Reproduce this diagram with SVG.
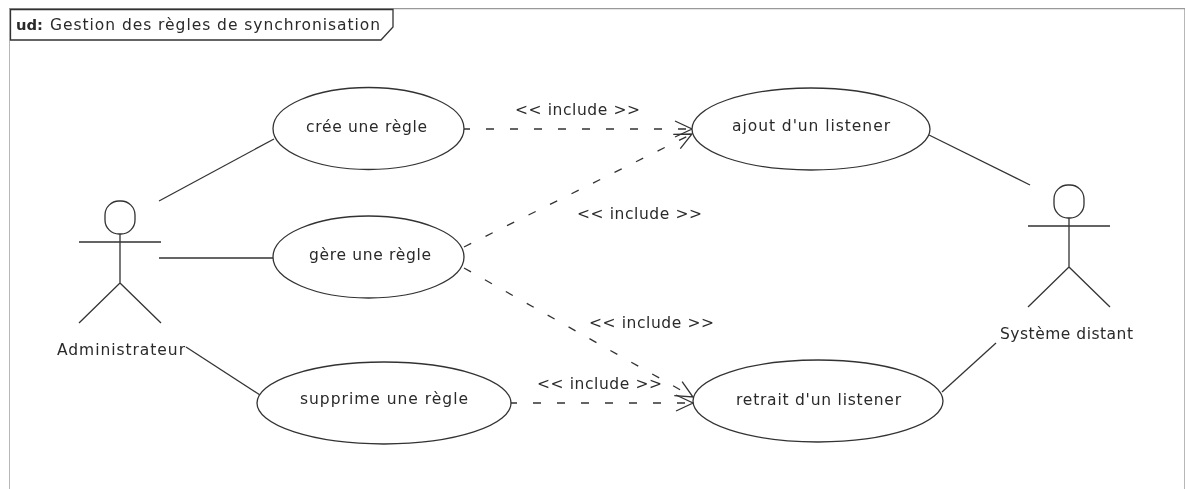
<svg xmlns="http://www.w3.org/2000/svg" width="1186" height="489" viewBox="0 0 1186 489">
<style>
text{font-family:"DejaVu Sans",sans-serif;font-size:15.500px;fill:#2a2a2a}
.s{fill:none;stroke:#333;stroke-width:1.300}
.u{fill:#fff;stroke:#333;stroke-width:1.300}
.d{fill:none;stroke:#333;stroke-width:1.300;stroke-dasharray:8 16}
.f{fill:none;stroke:#999;stroke-width:1.400}
</style>
<defs>
<filter id="soft" x="0" y="0" width="100%" height="100%"><feGaussianBlur stdDeviation="0.350"/></filter>
<marker id="open" markerUnits="userSpaceOnUse" markerWidth="24" markerHeight="24" refX="21" refY="12" orient="auto">
<path d="M4 4L21 12L4 20" fill="none" stroke="#333" stroke-width="1.300"/>
</marker>
</defs>
<rect width="1186" height="489" fill="#fff"/>
<g filter="url(#soft)">
<g id="frame">
<path class="f" d="M9 489V8.500H1185V489"/>
<path d="M10.500 9.500H393V27L381 40H10.500Z" fill="#fff" stroke="#333" stroke-width="1.300"/>
<text x="16" y="30" font-weight="bold" textLength="27" lengthAdjust="spacingAndGlyphs" style="font-size:14.500px">ud:</text>
<text x="50" y="30" textLength="330">Gestion des règles de synchronisation</text>
</g>
<g id="connectors">
<path class="s" d="M159 201L274 139"/>
<path class="s" d="M159 258H273"/>
<path class="s" d="M186 347L260 395"/>
<path class="s" d="M929 135L1030 185"/>
<path class="s" d="M942 392L996 343"/>
<path class="d" d="M462 129H692" marker-end="url(#open)"/>
<path class="d" d="M464 247L692 134" marker-end="url(#open)"/>
<path class="d" d="M464 268L693 397" marker-end="url(#open)"/>
<path class="d" d="M509 403H693" marker-end="url(#open)"/>
<text x="515" y="115" textLength="125">&lt;&lt; include &gt;&gt;</text>
<text x="577" y="219" textLength="125">&lt;&lt; include &gt;&gt;</text>
<text x="589" y="328" textLength="125">&lt;&lt; include &gt;&gt;</text>
<text x="537" y="389" textLength="125">&lt;&lt; include &gt;&gt;</text>
</g>
<g id="uc-cree"><ellipse class="u" cx="368.500" cy="128.500" rx="95.500" ry="41"/><text x="306" y="132" textLength="121">crée une règle</text></g>
<g id="uc-gere"><ellipse class="u" cx="368.500" cy="257" rx="95.500" ry="41"/><text x="309" y="260" textLength="122">gère une règle</text></g>
<g id="uc-supprime"><ellipse class="u" cx="384" cy="403" rx="127" ry="41"/><text x="300" y="404" textLength="168">supprime une règle</text></g>
<g id="uc-ajout"><ellipse class="u" cx="811" cy="129" rx="119" ry="41"/><text x="732" y="131" textLength="158">ajout d'un listener</text></g>
<g id="uc-retrait"><ellipse class="u" cx="818" cy="401" rx="125" ry="41"/><text x="736" y="405" textLength="165">retrait d'un listener</text></g>
<g id="actor-admin">
<rect class="s" x="105" y="201" width="30" height="33" rx="14" ry="14"/>
<path class="s" d="M79 242H161M120 234V283L79 323M120 283L161 323"/>
<text x="57" y="355" textLength="128">Administrateur</text>
</g>
<g id="actor-systeme">
<rect class="s" x="1054" y="185" width="30" height="33" rx="14" ry="14"/>
<path class="s" d="M1028 226H1110M1069 218V267L1028 307M1069 267L1110 307"/>
<text x="1000" y="339" textLength="133">Système distant</text>
</g>
</g>
</svg>
